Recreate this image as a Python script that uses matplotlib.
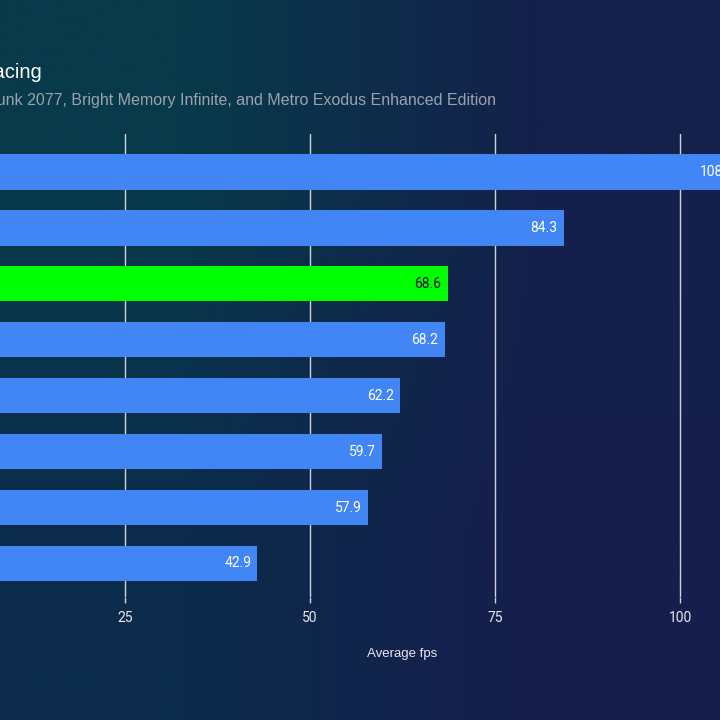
import matplotlib
matplotlib.use("Agg")
import matplotlib.pyplot as plt
import numpy as np

CATEGORIES = ["GPU A", "GPU B", "GPU C", "GPU D", "GPU E", "GPU F", "GPU G", "GPU H"]
FPS = [108.2, 84.3, 68.6, 68.2, 62.2, 59.7, 57.9, 42.9]
HIGHLIGHT = 2
XTICKS = [25, 50, 75, 100]

TITLE = "Ray Tracing"
SUBTITLE = "Average fps across Cyberpunk 2077, Bright Memory Infinite, and Metro Exodus Enhanced Edition"

BLUE = "#4285f4"
GREEN = "#00ff00"
GRID = "#d0d4da"
TEXT = "#ffffff"
MUTED = "#9aa3ad"

fig = plt.figure(figsize=(7.2, 7.2), dpi=100)

# background gradient (teal top-left -> navy right)
bg = fig.add_axes([0, 0, 1, 1], zorder=-10)
corners = np.array([
    [[7, 58, 74], [20, 33, 75]],
    [[12, 44, 76], [22, 30, 76]],
]) / 255.0
bg.imshow(corners, interpolation="bilinear", extent=[0, 1, 0, 1], aspect="auto")
bg.set_axis_off()

# plot area, shifted so that its left part falls outside the picture
ax = fig.add_axes([-60 / 720, 123 / 720, 925 / 720, 463 / 720])
ax.patch.set_alpha(0)

y = np.arange(len(FPS))
colors = [GREEN if i == HIGHLIGHT else BLUE for i in range(len(FPS))]
ax.barh(y, FPS, height=0.63, color=colors, zorder=3)

for i, v in enumerate(FPS):
    ax.text(v - 0.85, i, f"{v:.1f}", ha="right", va="center",
            fontsize=10, family="Roboto",
            color="#111111" if i == HIGHLIGHT else TEXT, zorder=4)

ax.set_xlim(0, 125)
ax.set_ylim(7.6, -0.68)
ax.set_xticks(XTICKS)
ax.set_xticklabels([str(t) for t in XTICKS], fontsize=10, color="#e6e9ee",
                   family="Roboto")
ax.set_yticks([])
ax.tick_params(axis="x", length=4, width=1, color=GRID, pad=6)
ax.grid(axis="x", color=GRID, linewidth=1, zorder=1)
ax.set_axisbelow(True)
for s in ax.spines.values():
    s.set_visible(False)
ax.set_xlabel("Average fps", fontsize=9.5, color="#e6e9ee",
              family="Liberation Sans", labelpad=17)

fig.text(42 / 720, 1 - 73 / 720, TITLE, ha="right", va="center",
         fontsize=14.5, color=TEXT, family="Liberation Sans")
fig.text(496 / 720, 1 - 100 / 720, SUBTITLE, ha="right", va="center",
         fontsize=11.55, color=MUTED, family="Liberation Sans")

fig.savefig("out.png", dpi=100)
